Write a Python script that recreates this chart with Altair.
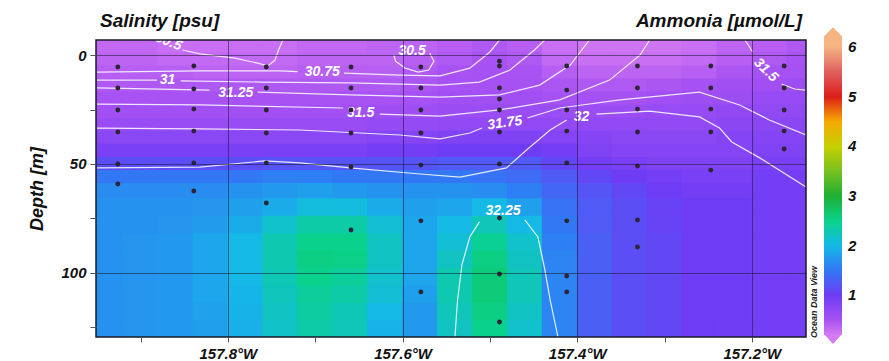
import altair as alt
import pandas as pd

FONT = "Liberation Sans"

# ---------------- axes extents (deg W, metres) ----------------
lon_left_w = 157.951
lon_right_w = 157.138
depth_top = -6.9
depth_bottom = 129.4
x_ticks_w = [157.9, 157.8, 157.7, 157.6, 157.5, 157.4, 157.3, 157.2]
y_ticks = [0, 25, 50, 75, 100, 125]

# ---------------- colour scale (Ammonia) ----------------
color_stops = [0.2, 0.5, 1.0, 1.5, 2.0, 2.5, 3.0, 3.5, 4.0, 4.4, 4.75, 5.0, 5.5, 6.0, 6.14]
color_hex = ["#d47af3", "#a852f3", "#6e3cf5", "#3278f5", "#14b9e6", "#0ad28c",
             "#1eaf32", "#78c020", "#c8d000", "#f8c000", "#f07000", "#dc1e19",
             "#e06060", "#f5b482", "#f5b482"]
legend_values = [1, 2, 3, 4, 5, 6]

# ---------------- ammonia field read from the section ----------------
heat_lon_w = [157.94, 157.90, 157.86, 157.82, 157.78, 157.74, 157.70, 157.66, 157.62, 157.58,
              157.54, 157.50, 157.46, 157.42, 157.38, 157.34, 157.30, 157.26, 157.22, 157.18, 157.14]
heat_depth = [-4, 2, 8, 14, 20, 26, 32, 38, 44, 50, 56, 62, 70, 78, 86, 94, 102, 110, 118, 126]

amm_m4 = [0.33, 0.33, 0.28, 0.28, 0.28, 0.28, 0.33, 0.33, 0.36, 0.36, 0.4, 0.45, 0.4, 0.28, 0.24, 0.24, 0.24, 0.28, 0.36, 0.4, 0.45]
amm_2 = [0.36, 0.36, 0.32, 0.32, 0.32, 0.32, 0.36, 0.36, 0.36, 0.4, 0.45, 0.5, 0.45, 0.32, 0.28, 0.28, 0.28, 0.32, 0.4, 0.45, 0.5]
amm_8 = [0.4, 0.4, 0.4, 0.36, 0.36, 0.36, 0.4, 0.4, 0.4, 0.45, 0.5, 0.52, 0.5, 0.4, 0.36, 0.36, 0.36, 0.4, 0.48, 0.52, 0.52]
amm_14 = [0.45, 0.45, 0.45, 0.45, 0.45, 0.45, 0.45, 0.45, 0.45, 0.48, 0.52, 0.52, 0.52, 0.48, 0.45, 0.45, 0.48, 0.52, 0.56, 0.56, 0.6]
amm_20 = [0.5, 0.5, 0.5, 0.5, 0.5, 0.5, 0.5, 0.5, 0.5, 0.52, 0.56, 0.56, 0.56, 0.52, 0.52, 0.52, 0.56, 0.6, 0.6, 0.65, 0.65]
amm_26 = [0.55, 0.55, 0.55, 0.55, 0.55, 0.55, 0.55, 0.55, 0.58, 0.58, 0.62, 0.62, 0.62, 0.62, 0.62, 0.62, 0.65, 0.65, 0.7, 0.7, 0.7]
amm_32 = [0.63, 0.63, 0.63, 0.63, 0.63, 0.63, 0.63, 0.63, 0.66, 0.66, 0.7, 0.7, 0.7, 0.7, 0.7, 0.7, 0.7, 0.7, 0.75, 0.75, 0.75]
amm_38 = [0.76, 0.76, 0.76, 0.76, 0.76, 0.76, 0.76, 0.76, 0.8, 0.8, 0.85, 0.85, 0.85, 0.8, 0.8, 0.76, 0.76, 0.76, 0.8, 0.8, 0.8]
amm_44 = [0.9, 0.9, 0.9, 0.9, 0.9, 0.9, 0.9, 0.9, 0.95, 0.95, 1.0, 1.0, 1.0, 0.95, 0.85, 0.8, 0.8, 0.8, 0.8, 0.85, 0.85]
amm_50 = [1.15, 1.15, 1.15, 1.15, 1.15, 1.2, 1.2, 1.2, 1.2, 1.2, 1.25, 1.25, 1.25, 1.1, 0.95, 0.9, 0.85, 0.85, 0.85, 0.9, 0.9]
amm_56 = [1.5, 1.5, 1.5, 1.5, 1.5, 1.55, 1.55, 1.5, 1.5, 1.5, 1.5, 1.45, 1.4, 1.25, 1.1, 1.0, 0.95, 0.9, 0.9, 0.95, 0.95]
amm_62 = [1.65, 1.65, 1.65, 1.65, 1.7, 1.75, 1.8, 1.75, 1.7, 1.7, 1.7, 1.65, 1.55, 1.35, 1.2, 1.1, 1.0, 0.95, 0.95, 0.95, 0.95]
amm_70 = [1.7, 1.7, 1.7, 1.72, 1.8, 1.9, 2.05, 2.05, 1.9, 1.8, 1.85, 2.0, 1.8, 1.45, 1.25, 1.15, 1.05, 1.0, 1.0, 0.95, 0.95]
amm_78 = [1.7, 1.7, 1.72, 1.78, 1.9, 2.15, 2.35, 2.35, 2.1, 1.85, 2.0, 2.25, 2.0, 1.5, 1.25, 1.15, 1.05, 1.0, 1.0, 0.95, 0.95]
amm_86 = [1.7, 1.72, 1.75, 1.85, 2.0, 2.3, 2.5, 2.5, 2.2, 1.85, 2.1, 2.45, 2.15, 1.55, 1.3, 1.15, 1.1, 1.0, 1.0, 0.95, 0.95]
amm_94 = [1.7, 1.72, 1.75, 1.85, 2.0, 2.3, 2.55, 2.52, 2.2, 1.85, 2.2, 2.55, 2.2, 1.6, 1.3, 1.15, 1.1, 1.0, 1.0, 0.95, 0.95]
amm_102 = [1.7, 1.72, 1.75, 1.85, 2.0, 2.28, 2.5, 2.42, 2.15, 1.85, 2.3, 2.6, 2.25, 1.6, 1.3, 1.15, 1.1, 1.0, 1.0, 0.95, 0.95]
amm_110 = [1.7, 1.72, 1.75, 1.85, 1.98, 2.24, 2.42, 2.35, 2.1, 1.8, 2.3, 2.6, 2.25, 1.6, 1.3, 1.15, 1.1, 1.0, 1.0, 0.95, 0.95]
amm_118 = [1.7, 1.72, 1.75, 1.82, 1.95, 2.2, 2.38, 2.28, 2.0, 1.75, 2.25, 2.55, 2.2, 1.6, 1.3, 1.15, 1.1, 1.0, 1.0, 0.95, 0.95]
amm_126 = [1.7, 1.72, 1.75, 1.8, 1.92, 2.18, 2.35, 2.25, 1.95, 1.75, 2.2, 2.5, 2.15, 1.6, 1.3, 1.15, 1.1, 1.0, 0.98, 0.95, 0.95]
amm_rows = [amm_m4, amm_2, amm_8, amm_14, amm_20, amm_26, amm_32, amm_38, amm_44, amm_50,
            amm_56, amm_62, amm_70, amm_78, amm_86, amm_94, amm_102, amm_110, amm_118, amm_126]

# ---------------- sampling stations (deg W) and bottle depths (m) ----------------
station_lon_w = [157.926, 157.839, 157.756, 157.659, 157.579, 157.489, 157.412, 157.331, 157.247, 157.163]
st1_depths = [5.5, 15.1, 25.2, 35.3, 50.0, 59.2]
st2_depths = [5.0, 15.6, 24.8, 34.9, 49.5, 62.4]
st3_depths = [5.5, 15.1, 25.2, 35.8, 49.5, 67.9]
st4_depths = [5.5, 15.1, 25.2, 35.8, 51.4, 80.3]
st5_depths = [5.5, 15.1, 25.2, 35.8, 50.5, 76.1, 108.7]
st6_depths = [2.8, 5.0, 15.1, 20.2, 25.2, 35.3, 50.0, 74.8, 100.5, 122.5]
st7_depths = [5.0, 16.1, 25.2, 34.9, 49.5, 76.1, 101.4, 108.7]
st8_depths = [5.0, 15.1, 24.8, 35.3, 50.9, 75.7, 88.1]
st9_depths = [5.0, 15.1, 24.8, 35.3, 52.8]
st10_depths = [5.0, 15.1, 25.2, 34.9, 43.1]
station_depths = [st1_depths, st2_depths, st3_depths, st4_depths, st5_depths,
                  st6_depths, st7_depths, st8_depths, st9_depths, st10_depths]

# ---------------- salinity contour segments (deg W, m) ----------------
c305a_lon = [157.852, 157.832, 157.792, 157.766, 157.754, 157.746, 157.742, 157.737]
c305a_dep = [-2.3, -0.5, 1.4, 3.7, 5.0, 2.3, -2.3, -6.9]
c305b_lon = [157.569, 157.564, 157.570, 157.582, 157.597, 157.608, 157.610]
c305b_dep = [-0.9, 2.8, 6.9, 7.8, 6.0, 2.8, 0.0]
c3075a_lon = [157.950, 157.832, 157.740, 157.720]
c3075a_dep = [7.8, 7.3, 7.3, 7.6]
c3075b_lon = [157.667, 157.603, 157.557, 157.523, 157.500, 157.489]
c3075b_dep = [8.3, 9.2, 9.6, 6.0, -1.4, -6.9]
c31a_lon = [157.950, 157.881]
c31a_dep = [11.5, 11.5]
c31b_lon = [157.854, 157.763, 157.660, 157.557, 157.512, 157.477, 157.449, 157.437]
c31b_dep = [11.9, 12.4, 12.8, 13.8, 12.4, 6.9, -2.3, -6.9]
c3125a_lon = [157.950, 157.821]
c3125a_dep = [15.1, 16.1]
c3125b_lon = [157.766, 157.660, 157.557, 157.489, 157.443, 157.408, 157.386]
c3125b_dep = [17.0, 18.3, 19.3, 18.3, 13.8, 4.6, -6.9]
c315a_lon = [157.950, 157.832, 157.668]
c315a_dep = [22.5, 22.9, 24.3]
c315b_lon = [157.626, 157.557, 157.489, 157.420, 157.363, 157.328, 157.317]
c315b_dep = [27.1, 28.0, 25.2, 20.6, 11.5, 0.0, -6.9]
c315c_lon = [157.208, 157.199]
c315c_dep = [-6.9, -1.4]
c315d_lon = [157.166, 157.151, 157.138]
c315d_dep = [13.3, 15.6, 16.1]
c3175a_lon = [157.950, 157.832, 157.718, 157.603, 157.557, 157.523, 157.509]
c3175a_dep = [33.5, 33.9, 34.4, 36.7, 38.5, 35.8, 33.5]
c3175b_lon = [157.457, 157.420, 157.351, 157.260, 157.214, 157.180, 157.138]
c3175b_dep = [28.9, 24.3, 20.6, 17.0, 22.9, 29.8, 36.7]
c32a_lon = [157.950, 157.832, 157.758, 157.718, 157.660, 157.580, 157.534, 157.481, 157.458, 157.431, 157.412]
c32a_dep = [51.8, 51.4, 48.6, 49.5, 51.8, 54.6, 56.0, 51.8, 43.6, 34.4, 29.8]
c32b_lon = [157.378, 157.317, 157.260, 157.237, 157.223, 157.191, 157.138]
c32b_dep = [27.1, 25.7, 28.4, 33.5, 39.9, 47.2, 60.6]
c3225a_lon = [157.540, 157.537, 157.532, 157.523, 157.512]
c3225a_dep = [129.4, 112.4, 96.3, 83.5, 76.6]
c3225b_lon = [157.460, 157.445, 157.437, 157.431, 157.422]
c3225b_dep = [75.7, 83.5, 98.6, 112.4, 129.4]

contour_segments = [
    ("30.5a", c305a_lon, c305a_dep), ("30.5b", c305b_lon, c305b_dep),
    ("30.75a", c3075a_lon, c3075a_dep), ("30.75b", c3075b_lon, c3075b_dep),
    ("31a", c31a_lon, c31a_dep), ("31b", c31b_lon, c31b_dep),
    ("31.25a", c3125a_lon, c3125a_dep), ("31.25b", c3125b_lon, c3125b_dep),
    ("31.5a", c315a_lon, c315a_dep), ("31.5b", c315b_lon, c315b_dep),
    ("31.5c", c315c_lon, c315c_dep), ("31.5d", c315d_lon, c315d_dep),
    ("31.75a", c3175a_lon, c3175a_dep), ("31.75b", c3175b_lon, c3175b_dep),
    ("32a", c32a_lon, c32a_dep), ("32b", c32b_lon, c32b_dep),
    ("32.25a", c3225a_lon, c3225a_dep), ("32.25b", c3225b_lon, c3225b_dep),
]

# contour labels
label_text = ["30.5", "30.5", "31", "30.75", "31.25", "31.5", "31.75", "32", "32.25", "31.5"]
label_lon_w = [157.868, 157.589, 157.869, 157.692, 157.791, 157.648, 157.483, 157.395, 157.485, 157.184]
label_dep = [-6.0, -1.8, 11.5, 7.8, 17.4, 26.6, 31.2, 28.4, 71.6, 6.9]
label_angle = [22, 0, 0, 0, 0, 0, 352, 0, 0, 45]

left_title = "Salinity [psu]"
right_title = "Ammonia [µmol/L]"
y_title = "Depth [m]"
brand = "Ocean Data View"

# ---------------- tables ----------------
edges = [-7.5] + [(heat_depth[i] + heat_depth[i + 1]) / 2 for i in range(len(heat_depth) - 1)] + [130.0]
cells = []
for r, row in enumerate(amm_rows):
    for c, lw in enumerate(heat_lon_w):
        # cells overlap by a hair so that no seams show between neighbours
        cells.append({"x0": -(lw + 0.0205), "x1": -(lw - 0.0205),
                      "y0": edges[r] - 0.25, "y1": edges[r + 1] + 0.25, "v": row[c]})
heat_df = pd.DataFrame(cells)

dots = []
for lw, deps in zip(station_lon_w, station_depths):
    for d in deps:
        dots.append({"x": -lw, "d": d})
dots_df = pd.DataFrame(dots)

lines = []
for name, lons, deps in contour_segments:
    for i, (lw, d) in enumerate(zip(lons, deps)):
        lines.append({"seg": name, "i": i, "x": -lw, "d": d})
lines_df = pd.DataFrame(lines)

labels_df = pd.DataFrame({"t": label_text, "x": [-v for v in label_lon_w],
                          "d": label_dep, "a": label_angle})
one = pd.DataFrame({"k": [0]})

# ---------------- scales / axes ----------------
xs = alt.Scale(domain=[-lon_left_w, -lon_right_w], nice=False, zero=False)
ys = alt.Scale(domain=[depth_top, depth_bottom], reverse=True, nice=False, zero=False)
cs = alt.Scale(domain=color_stops, range=color_hex, clamp=True, interpolate="rgb")

x_axis = alt.Axis(
    values=[-v for v in x_ticks_w],
    labelExpr="abs(round(datum.value*10))%2==0 ? format(abs(datum.value),'.1f')+'°W' : ''",
    title=None, grid=True, gridColor="#1c1630", gridWidth=1,
    gridOpacity={"condition": {"test": "abs(round(datum.value*10))%2==1", "value": 0}, "value": 0.55},
    domain=False, tickColor="#555", tickSize=5, labelPadding=4, labelOverlap=False,
    labelFlush=False, labelFont=FONT, labelFontSize=15, labelFontWeight="bold",
    labelFontStyle="italic", labelColor="#111", zindex=1)
y_axis = alt.Axis(
    values=y_ticks, labelExpr="datum.value % 50 == 0 ? datum.label : ''",
    title=y_title, grid=True, gridColor="#1c1630", gridWidth=1,
    gridOpacity={"condition": {"test": "datum.value % 50 != 0", "value": 0}, "value": 0.55},
    domain=False, tickColor="#555", tickSize=6, labelPadding=4, labelOverlap=False,
    labelFlush=False, labelFont=FONT, labelFontSize=15, labelFontWeight="bold",
    labelFontStyle="italic", labelColor="#111", titleFont=FONT, titleFontSize=18,
    titleFontWeight="bold", titleFontStyle="italic", titleColor="#111", titlePadding=14,
    zindex=1)

X = lambda f: alt.X(f, type="quantitative", scale=xs, axis=x_axis)
Y = lambda f: alt.Y(f, type="quantitative", scale=ys, axis=y_axis)

heat = alt.Chart(heat_df).mark_rect(clip=True, strokeWidth=0).encode(
    x=X("x0"), x2="x1", y=Y("y0"), y2="y1",
    color=alt.Color("v:Q", scale=cs, title=None, legend=alt.Legend(
        type="gradient", orient="none", legendX=728, legendY=0, direction="vertical",
        gradientLength=295, gradientThickness=18, gradientStrokeWidth=0,
        values=legend_values, padding=0, labelOffset=6, labelFont=FONT,
        labelFontSize=15, labelFontWeight="bold", labelFontStyle="italic",
        labelColor="#111")),
)

contours = alt.Chart(lines_df).mark_line(clip=True, color="white", strokeWidth=1.2, opacity=0.85).encode(
    x=X("x"), y=Y("d"), detail="seg:N", order="i:Q")

clabels = alt.Chart(labels_df).mark_text(
    clip=True, color="white", font=FONT, fontSize=14, fontWeight="bold", fontStyle="italic"
).encode(x=X("x"), y=Y("d"), text="t:N", angle=alt.Angle("a:Q", scale=None))

dots_layer = alt.Chart(dots_df).mark_circle(size=24, color="#2b2535", opacity=1).encode(
    x=X("x"), y=Y("d"))

frame = alt.Chart(one).mark_rect(fillOpacity=0, stroke="#1a1a28", strokeWidth=1.5).encode(
    x=alt.value(0), x2=alt.value(710), y=alt.value(0), y2=alt.value(297))

t_left = alt.Chart(pd.DataFrame({"t": [left_title]})).mark_text(
    align="left", baseline="alphabetic", font=FONT, fontSize=19, fontWeight="bold",
    fontStyle="italic", color="#111").encode(x=alt.value(4), y=alt.value(-13), text="t:N")
t_right = alt.Chart(pd.DataFrame({"t": [right_title]})).mark_text(
    align="right", baseline="alphabetic", font=FONT, fontSize=19, fontWeight="bold",
    fontStyle="italic", color="#111").encode(x=alt.value(706), y=alt.value(-13), text="t:N")
t_brand = alt.Chart(pd.DataFrame({"t": [brand]})).mark_text(
    align="center", baseline="middle", angle=270, font=FONT, fontSize=9, fontWeight="bold",
    fontStyle="italic", color="#222").encode(x=alt.value(718), y=alt.value(262), text="t:N")

cap_top = alt.Chart(one).mark_point(
    shape="M -1 1 L -1 -0.2 L 0 -1.2 L 1 -0.2 L 1 1 Z", size=324, filled=True,
    color="#f5b482", opacity=1).encode(x=alt.value(737), y=alt.value(-2))
cap_bot = alt.Chart(one).mark_point(
    shape="M -1 -0.1 L 0 1 L 1 -0.1 Z", size=324, filled=True,
    color="#d47af3", opacity=1).encode(x=alt.value(737), y=alt.value(295))

chart = alt.layer(heat, contours, clabels, dots_layer, frame, t_left, t_right, t_brand,
                  cap_top, cap_bot).properties(
    width=710, height=297,
    autosize=alt.AutoSizeParams(type="none"),
    padding={"left": 88, "top": 32, "right": 75, "bottom": 24},
).configure_view(stroke=None)

chart.save("out.html", embed_options={"renderer": "svg", "actions": False})
